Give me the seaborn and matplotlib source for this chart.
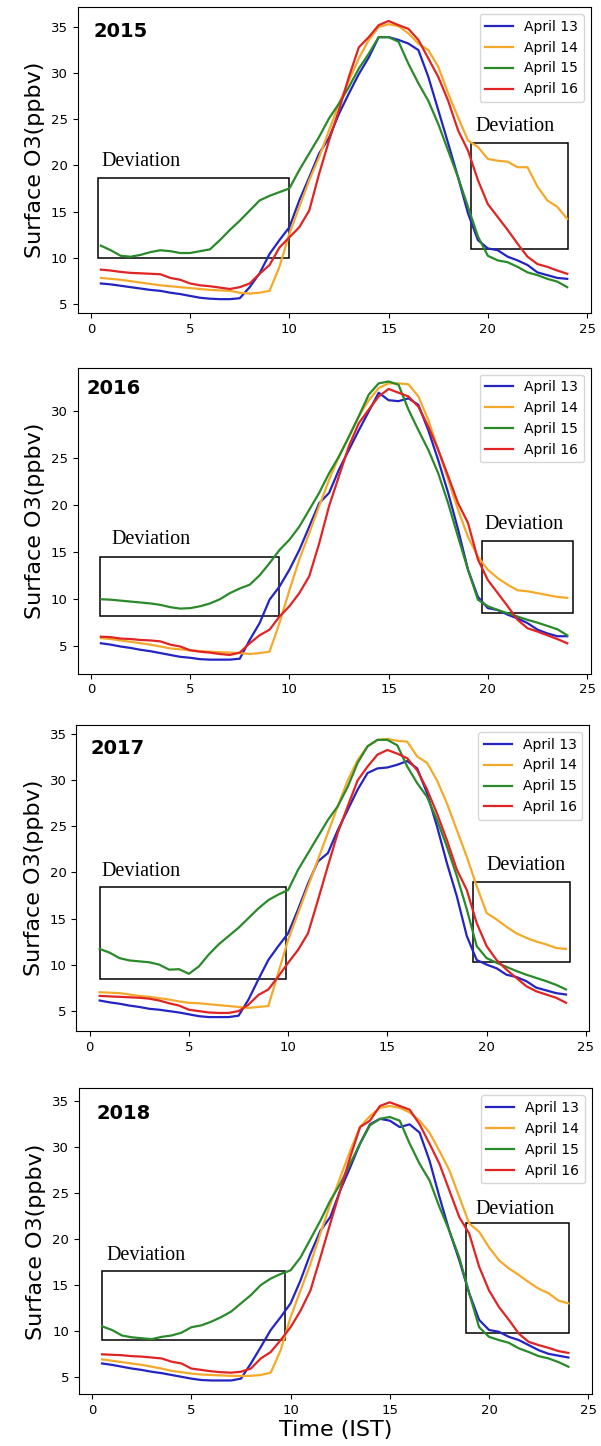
import numpy as np
import pandas as pd
import matplotlib
matplotlib.use("Agg")
import matplotlib.pyplot as plt
import seaborn as sns
from matplotlib.patches import Rectangle

# Half-hourly surface ozone (ppbv), local time 00:30 .. 24:00
hours = np.arange(0.5, 24.01, 0.5)
days = ["April 13", "April 14", "April 15", "April 16"]
years = ["2015", "2016", "2017", "2018"]

o3_2015_apr13 = [7.2, 7.1, 6.95, 6.8, 6.65, 6.5, 6.4, 6.2, 6.05, 5.85, 5.65, 5.55, 5.5, 5.5, 5.6,
                 6.8, 8.3, 10.4, 11.9, 13.3, 16.2, 18.7, 21.3, 23.0,
                 25.6, 27.8, 29.9, 31.7, 33.9, 33.9, 33.6, 33.2, 32.5,
                 29.6, 26.0, 22.4, 18.7, 14.8, 11.9, 11.0,
                 10.8, 10.1, 9.7, 9.2, 8.4, 8.1, 7.8, 7.7]
o3_2015_apr14 = [7.8, 7.7, 7.6, 7.45, 7.3, 7.15, 7.0, 6.9, 6.8, 6.7, 6.6, 6.5, 6.45, 6.4, 6.2,
                 6.1, 6.2, 6.4, 9.0, 12.6, 15.5, 18.4, 20.9, 23.8,
                 26.7, 29.2, 31.6, 33.6, 35.0, 35.3, 35.1, 34.3, 33.2,
                 32.5, 30.7, 27.8, 25.2, 22.7, 22.0, 20.7,
                 20.5, 20.4, 19.8, 19.8, 17.7, 16.2, 15.5, 14.2]
o3_2015_apr15 = [11.3, 10.8, 10.2, 10.1, 10.3, 10.6, 10.8, 10.7, 10.5, 10.5, 10.7, 10.9, 11.9, 13.0, 14.0,
                 15.1, 16.2, 16.7, 17.1, 17.5, 19.5, 21.3, 23.1, 25.1,
                 26.7, 28.5, 30.5, 32.1, 33.9, 33.9, 33.4, 31.0, 28.9,
                 27.0, 24.5, 21.6, 18.7, 15.5, 12.3, 10.2,
                 9.7, 9.5, 9.0, 8.4, 8.1, 7.7, 7.4, 6.8]
o3_2015_apr16 = [8.7, 8.6, 8.45, 8.35, 8.3, 8.25, 8.2, 7.8, 7.6, 7.2, 7.0, 6.9, 6.75, 6.6, 6.8,
                 7.2, 8.25, 9.2, 11.1, 12.2, 13.3, 15.1, 19.1, 22.7,
                 26.0, 29.6, 32.8, 33.9, 35.2, 35.65, 35.2, 34.8, 33.6,
                 31.6, 29.6, 27.0, 23.8, 21.6, 18.4, 15.8,
                 14.4, 13.0, 11.5, 10.1, 9.3, 9.0, 8.6, 8.25]

o3_2016_apr13 = [5.25, 5.1, 4.9, 4.75, 4.55, 4.4, 4.2, 4.0, 3.8, 3.7, 3.55, 3.5, 3.5, 3.5, 3.6,
                 5.6, 7.4, 9.9, 11.3, 13.1, 15.2, 17.7, 20.2, 21.3,
                 23.8, 25.9, 28.0, 30.0, 32.0, 31.2, 31.1, 31.4, 30.7,
                 28.0, 24.8, 21.3, 17.4, 13.1, 10.2, 9.0,
                 8.8, 8.3, 7.9, 7.4, 6.7, 6.3, 6.0, 6.0]
o3_2016_apr14 = [5.8, 5.7, 5.55, 5.4, 5.25, 5.1, 4.9, 4.7, 4.6, 4.5, 4.4, 4.35, 4.3, 4.25, 4.2,
                 4.1, 4.2, 4.35, 7.4, 10.9, 14.2, 17.0, 19.9, 22.7,
                 25.2, 27.3, 29.5, 31.2, 32.5, 33.0, 33.0, 32.9, 31.6,
                 29.1, 25.9, 22.7, 19.5, 16.6, 14.5, 13.1,
                 12.2, 11.5, 10.9, 10.8, 10.6, 10.4, 10.2, 10.1]
o3_2016_apr15 = [9.95, 9.9, 9.8, 9.7, 9.6, 9.5, 9.35, 9.1, 8.95, 9.0, 9.2, 9.5, 9.95, 10.6, 11.1,
                 11.5, 12.5, 13.8, 15.2, 16.3, 17.7, 19.5, 21.3, 23.4,
                 25.2, 27.3, 29.5, 31.8, 33.0, 33.2, 32.85, 30.2, 28.0,
                 25.9, 23.4, 20.2, 16.6, 13.1, 9.9, 9.2,
                 8.8, 8.45, 8.1, 7.75, 7.45, 7.1, 6.75, 6.1]
o3_2016_apr16 = [5.95, 5.9, 5.75, 5.7, 5.6, 5.55, 5.45, 5.1, 4.9, 4.5, 4.35, 4.25, 4.1, 4.0, 4.25,
                 5.25, 6.1, 6.7, 8.1, 9.2, 10.6, 12.4, 15.9, 19.9,
                 23.1, 26.3, 28.75, 30.2, 31.6, 32.4, 32.0, 31.6, 30.5,
                 28.4, 25.9, 23.1, 20.2, 18.1, 14.2, 12.0,
                 10.6, 9.2, 7.75, 6.85, 6.5, 6.1, 5.7, 5.25]

o3_2017_apr13 = [6.1, 5.9, 5.75, 5.55, 5.4, 5.2, 5.1, 4.95, 4.8, 4.6, 4.4, 4.3, 4.3, 4.3, 4.45,
                 6.2, 8.4, 10.5, 12.0, 13.4, 16.0, 18.8, 21.2, 22.1,
                 24.6, 26.8, 29.0, 30.8, 31.3, 31.4, 31.7, 32.1, 31.3,
                 28.6, 25.0, 21.0, 17.4, 13.1, 10.5, 10.0,
                 9.6, 8.9, 8.65, 8.2, 7.5, 7.2, 6.9, 6.75]
o3_2017_apr14 = [7.0, 6.95, 6.9, 6.75, 6.6, 6.5, 6.35, 6.2, 6.0, 5.85, 5.8, 5.7, 5.6, 5.5, 5.4,
                 5.3, 5.4, 5.5, 9.1, 12.7, 15.6, 18.5, 21.4, 24.3,
                 27.2, 30.0, 32.2, 33.7, 34.4, 34.5, 34.3, 34.2, 32.6,
                 31.9, 30.0, 27.5, 24.6, 21.7, 18.5, 15.6,
                 14.9, 14.1, 13.4, 12.9, 12.5, 12.2, 11.8, 11.7]
o3_2017_apr15 = [11.7, 11.3, 10.7, 10.45, 10.35, 10.25, 10.0, 9.45, 9.5, 9.0, 9.8, 11.1, 12.2, 13.1, 14.0,
                 15.05, 16.1, 17.0, 17.6, 18.1, 20.3, 22.1, 23.9, 25.7,
                 27.2, 29.3, 31.9, 33.7, 34.4, 34.4, 33.8, 31.5, 29.7,
                 28.2, 25.7, 22.8, 19.6, 16.0, 12.0, 10.7,
                 10.2, 9.75, 9.3, 8.9, 8.55, 8.2, 7.8, 7.3]
o3_2017_apr16 = [6.6, 6.55, 6.5, 6.45, 6.4, 6.3, 6.1, 5.8, 5.55, 5.1, 4.95, 4.8, 4.75, 4.75, 4.95,
                 5.65, 6.7, 7.3, 8.7, 10.2, 11.6, 13.4, 17.0, 20.7,
                 24.3, 27.2, 30.0, 31.5, 32.8, 33.3, 32.9, 32.4, 31.1,
                 29.0, 26.4, 23.5, 20.3, 18.1, 14.5, 12.0,
                 10.5, 9.45, 8.55, 7.65, 7.1, 6.75, 6.4, 5.85]

o3_2018_apr13 = [6.45, 6.3, 6.1, 5.9, 5.75, 5.55, 5.4, 5.2, 5.0, 4.8, 4.65, 4.6, 4.6, 4.6, 4.8,
                 6.45, 8.25, 10.1, 11.5, 13.0, 15.5, 18.4, 20.9, 22.4,
                 25.3, 27.8, 30.4, 32.5, 33.1, 32.9, 32.2, 32.5, 31.6,
                 28.55, 24.6, 20.9, 17.7, 14.1, 11.2, 10.1,
                 9.9, 9.35, 9.0, 8.45, 7.9, 7.5, 7.3, 7.1]
o3_2018_apr14 = [6.9, 6.75, 6.6, 6.45, 6.3, 6.1, 5.9, 5.65, 5.5, 5.35, 5.25, 5.2, 5.15, 5.1, 5.1,
                 5.1, 5.2, 5.45, 7.9, 11.5, 14.4, 17.3, 20.6, 23.8,
                 26.7, 29.6, 32.2, 33.4, 34.3, 34.5, 34.3, 33.8, 32.9,
                 31.6, 29.6, 27.5, 24.6, 21.7, 20.8, 19.1,
                 17.7, 16.8, 16.1, 15.3, 14.6, 14.1, 13.3, 13.0]
o3_2018_apr15 = [10.5, 10.1, 9.5, 9.3, 9.2, 9.1, 9.35, 9.5, 9.8, 10.4, 10.6, 11.0, 11.5, 12.1, 13.0,
                 13.9, 15.0, 15.7, 16.2, 16.6, 18.0, 20.0, 22.0, 24.2,
                 26.0, 28.2, 30.4, 32.4, 33.1, 33.3, 32.9, 30.4, 28.2,
                 26.4, 23.5, 20.9, 18.0, 14.1, 10.4, 9.35,
                 9.0, 8.7, 8.1, 7.7, 7.25, 7.0, 6.6, 6.1]
o3_2018_apr16 = [7.45, 7.4, 7.35, 7.25, 7.2, 7.1, 7.0, 6.65, 6.45, 5.9, 5.75, 5.6, 5.5, 5.45, 5.55,
                 5.9, 7.0, 7.7, 9.0, 10.4, 12.2, 14.4, 18.0, 21.7,
                 25.3, 28.9, 32.2, 32.9, 34.5, 34.9, 34.5, 34.1, 32.5,
                 30.4, 28.2, 25.3, 22.4, 20.6, 17.0, 14.4,
                 12.6, 11.2, 9.7, 8.8, 8.45, 8.15, 7.8, 7.6]

series_by_year = {
    "2015": [o3_2015_apr13, o3_2015_apr14, o3_2015_apr15, o3_2015_apr16],
    "2016": [o3_2016_apr13, o3_2016_apr14, o3_2016_apr15, o3_2016_apr16],
    "2017": [o3_2017_apr13, o3_2017_apr14, o3_2017_apr15, o3_2017_apr16],
    "2018": [o3_2018_apr13, o3_2018_apr14, o3_2018_apr15, o3_2018_apr16],
}

# Long-form table for seaborn
rows = []
for year in years:
    for day, vals in zip(days, series_by_year[year]):
        rows.append(pd.DataFrame({"year": year, "day": day, "hour": hours, "o3": vals}))
df = pd.concat(rows, ignore_index=True)

palette = dict(zip(days, ["#2424c4", "#f5a92a", "#2a8a2a", "#e02424"]))

# Highlighted "Deviation" windows: (x0, x1, y0, y1) and label anchor (x, y)
dev_boxes = {
    "2015": [((0.35, 10.0, 10.0, 18.6), (0.54, 19.9)), ((19.17, 24.04, 10.9, 22.4), (19.36, 23.7))],
    "2016": [((0.45, 9.49, 8.2, 14.5), (1.03, 15.9)), ((19.73, 24.3, 8.5, 16.2), (19.85, 17.4))],
    "2017": [((0.54, 9.9, 8.4, 18.4), (0.58, 19.6)), ((19.3, 24.2, 10.3, 19.0), (20.0, 20.3))],
    "2018": [((0.52, 9.71, 9.0, 16.5), (0.71, 17.7)), ((18.86, 24.03, 9.8, 21.7), (19.3, 22.75))],
}

# Axes rectangles in figure fractions and year-tag positions in axes fractions
axes_rects = {
    "2015": [0.129, 0.7835, 0.8536, 0.2116],
    "2016": [0.129, 0.5342, 0.8536, 0.2116],
    "2017": [0.127, 0.2870, 0.8536, 0.2116],
    "2018": [0.131, 0.0357, 0.8536, 0.2116],
}
year_pos = {"2015": (0.031, 0.950), "2016": (0.018, 0.962), "2017": (0.027, 0.955), "2018": (0.034, 0.950)}

fig = plt.figure(figsize=(6.01, 14.46), dpi=100)

for year in years:
    ax = fig.add_axes(axes_rects[year])
    sub = df[df["year"] == year]
    for day in days:
        d = sub[sub["day"] == day]
        sns.lineplot(data=d, x="hour", y="o3", color=palette[day], linewidth=1.6,
                     label=day, ax=ax)
    xl, yl = ax.get_xlim(), ax.get_ylim()
    for (x0, x1, y0, y1), (tx, ty) in dev_boxes[year]:
        ax.add_patch(Rectangle((x0, y0), x1 - x0, y1 - y0, fill=False,
                               edgecolor="black", linewidth=1.1))
        ax.text(tx, ty, "Deviation", fontfamily="Liberation Serif", fontsize=14.5,
                color="black")
    ax.set_xlim(xl)
    ax.set_ylim(yl)
    ax.set_xticks([0, 5, 10, 15, 20, 25])
    ax.tick_params(labelsize=9.5)
    ax.text(*year_pos[year], year, transform=ax.transAxes, fontsize=14,
            fontweight="bold", va="top", ha="left")
    ax.legend(loc="upper right", fontsize=10)
    ax.set_ylabel("Surface O3(ppbv)", fontsize=16)
    if year == "2018":
        ax.set_xlabel("Time (IST)", fontsize=16, labelpad=2)
    else:
        ax.set_xlabel("")

fig.savefig("out.png", dpi=100)
